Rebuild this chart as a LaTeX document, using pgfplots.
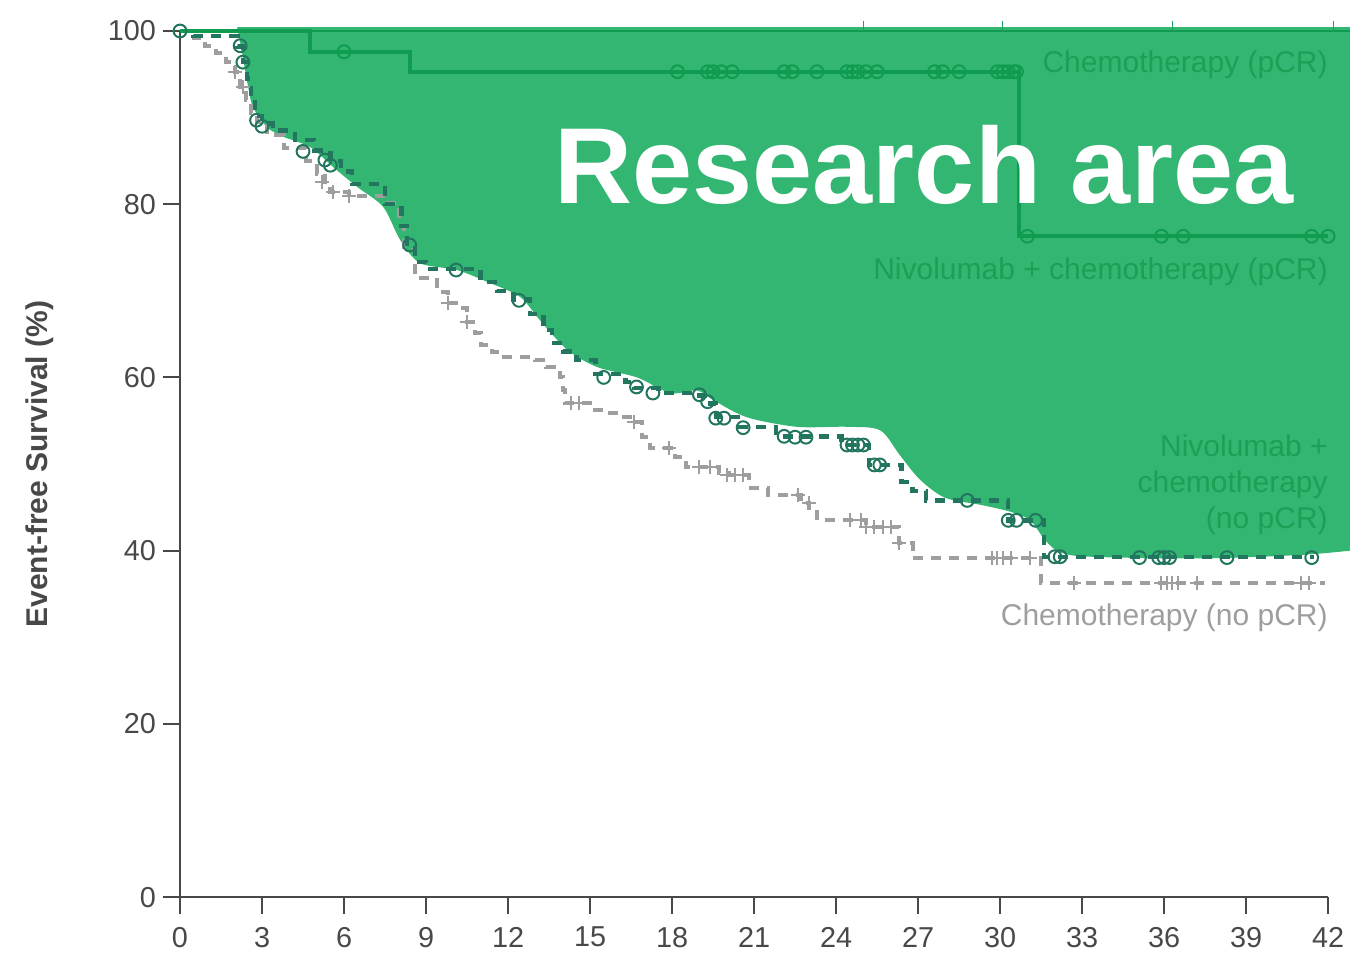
\documentclass[border=0pt]{standalone}
\usepackage{fontspec}
\setmainfont{Liberation Sans}
\usepackage{pgfplots}
\pgfplotsset{compat=1.18}
\usepgfplotslibrary{fillbetween}
\definecolor{fillgreen}{RGB}{50,182,113}
\definecolor{linegreen}{RGB}{16,156,80}
\definecolor{labgreen}{RGB}{28,160,86}
\definecolor{tealc}{RGB}{34,118,95}
\definecolor{grayc}{RGB}{158,158,158}
\definecolor{axgray}{RGB}{72,72,72}
\begin{document}
\begin{tikzpicture}
\begin{axis}[
  scale only axis, width=574pt, height=433pt,
  xmin=0, xmax=42, ymin=0, ymax=100,
  axis lines*=left, clip=false,
  xtick={0,3,...,42}, ytick={0,20,...,100},
  tick align=outside, major tick length=8.5pt,
  axis line style={axgray, line width=1pt},
  every tick/.style={axgray, line width=1pt},
  tick label style={font=\fontsize{14.4}{17}\selectfont, text=axgray},
  xticklabel style={yshift=-3pt},
  /pgf/number format/assume math mode=true,
  ylabel={Event-free Survival (\%)},
  ylabel style={font=\bfseries\fontsize{15}{18}\selectfont, text=axgray,
    at={(axis description cs:-0.122,0.5)}, anchor=center},
]
% Chemotherapy (no pCR)
\addplot[const plot, grayc, line width=2pt, dash pattern=on 5pt off 4pt] coordinates {
(0,100) (0.5,99.2) (0.9,98.3) (1.3,97.5) (1.7,96.4) (2.0,95.3) (2.2,93.5) (2.4,92.0)
(2.6,90.5) (2.8,89.5) (3.2,88.0) (3.8,86.5) (4.6,85.0) (5.0,83.5) (5.3,82.3) (5.5,81.4)
(6.2,80.9) (7.6,80.1) (8.0,77.5) (8.2,74.7) (8.6,71.5) (9.4,69.9) (9.8,68.6) (10.2,68.0)
(10.5,66.4) (10.8,65.1) (11.0,63.7) (11.4,62.9) (11.7,62.4) (13.0,62.0) (13.4,61.2)
(13.9,60.0) (14.0,58.5) (14.1,57.0) (15.0,56.2) (15.6,55.9) (16.1,55.4) (16.6,54.8)
(16.9,53.1) (17.2,51.8) (18.1,50.8) (18.5,49.7) (19.7,49.0) (20.1,48.7) (20.8,48.4)
(20.9,47.2) (21.5,46.4) (22.7,45.5) (23.0,44.5) (23.3,43.5) (25.1,42.7) (26.3,40.9)
(26.8,39.1) (31.5,36.3) (41.9,36.3)};
\addplot[only marks, mark=+, mark size=3.5pt, grayc, line width=1pt] coordinates {
(2.0,95.3) (2.3,93.5) (5.2,82.6) (5.6,81.4) (6.2,80.9) (9.8,68.6) (10.5,66.4)
(14.3,57.0) (14.6,57.0) (16.6,54.8) (17.9,51.8) (19.0,49.7) (19.4,49.7) (20.0,48.7)
(20.3,48.7) (20.6,48.7) (22.6,46.4) (23.0,45.5) (24.5,43.5) (24.9,43.5) (25.1,42.7)
(25.4,42.7) (25.7,42.7) (26.0,42.7) (26.3,40.9) (29.7,39.1) (29.9,39.1) (30.1,39.1)
(30.4,39.1) (31.1,39.1) (32.7,36.3) (35.9,36.3) (36.1,36.3) (36.3,36.3) (36.5,36.3)
(37.2,36.3) (41.0,36.3) (41.3,36.3)};
% Nivolumab + chemotherapy (no pCR)
\addplot[const plot, tealc, line width=2.2pt, dash pattern=on 5pt off 4pt] coordinates {
(0,100) (0.5,99.4) (2.1,98.2) (2.3,96.4) (2.45,94.5) (2.6,92.3) (2.75,90.2) (3.0,89.3)
(3.4,88.5) (4.2,87.4) (4.9,86.2) (5.5,85.0) (5.9,83.8) (6.3,82.3) (7.5,80.0) (8.1,77.5)
(8.3,75.4) (8.6,73.3) (9.0,72.5) (11.0,71.0) (11.6,70.0) (12.2,69.0) (12.8,67.3)
(13.3,65.5) (13.6,64.0) (14.0,63.0) (14.5,62.0) (15.2,60.4) (16.3,59.5) (16.6,58.8)
(17.5,58.2) (18.8,57.9) (19.3,57.0) (19.6,55.4) (20.5,54.3) (21.8,53.2) (24.2,52.2)
(25.2,49.9) (26.4,47.9) (26.8,46.9) (27.3,45.8) (30.3,43.5) (31.6,39.3) (41.5,39.3)};
\addplot[only marks, mark=o, mark size=3.2pt, tealc, line width=1pt] coordinates {
(0,100) (2.2,98.3) (2.3,96.4) (2.8,89.7) (3.0,89.0) (4.5,86.1) (5.3,85.1) (5.5,84.5)
(8.4,75.3) (10.1,72.4) (12.4,68.9) (15.5,60.0) (16.7,58.9) (17.3,58.2) (19.0,58.0)
(19.3,57.2) (19.6,55.3) (19.9,55.3) (20.6,54.2) (22.1,53.2) (22.5,53.1) (22.9,53.1)
(24.4,52.2) (24.6,52.2) (24.8,52.2) (25.0,52.2) (25.4,49.9) (25.6,49.9) (28.8,45.8)
(30.3,43.5) (30.6,43.5) (31.3,43.5) (32.0,39.3) (32.2,39.3) (35.1,39.2) (35.8,39.2)
(36.0,39.2) (36.2,39.2) (38.3,39.2) (41.4,39.2)};
% Research area fill
\addplot[name path=bnd, draw=none, smooth, tension=0.5] coordinates {
(2.09,100.45) (2.27,97.5) (2.49,93.6) (2.67,91.2) (3.18,88.9) (3.77,87.8) (4.76,86.6)
(5.60,84.3) (6.48,82.0) (7.43,79.7) (8.05,75.9) (8.78,73.2) (10.13,72.4) (11.34,70.9)
(12.44,69.3) (13.17,66.6) (14.16,63.2) (15.26,61.2) (16.72,60.0) (17.93,58.2)
(18.91,58.5) (19.50,57.4) (20.74,55.4) (22.57,54.3) (24.40,54.3) (25.61,53.9)
(26.34,51.0) (27.07,48.2) (27.99,46.1) (29.27,45.3) (30.37,44.5) (31.10,43.5)
(31.65,41.2) (32.20,39.8) (33.29,39.3) (37.32,39.1) (40.98,39.5) (42.8,40.0)};
\addplot[name path=topl, draw=none] coordinates {(2.09,100.45) (42.8,100.45)};
\addplot[fillgreen, draw=none] fill between[of=bnd and topl];
% Chemotherapy (pCR)
\addplot[linegreen, line width=1.4pt] coordinates {(0,100) (42.8,100)};
\addplot[only marks, mark=|, mark size=2.5pt, linegreen!70!fillgreen, line width=0.6pt] coordinates {
(25.0,100.6) (30.1,100.6) (36.3,100.6) (42.2,100.6)};
% Nivolumab + chemotherapy (pCR)
\addplot[const plot, linegreen, line width=2pt] coordinates {
(0,100) (4.76,97.6) (8.41,95.3) (30.7,76.3) (42.0,76.3)};
\addplot[only marks, mark=o, mark size=3.2pt, linegreen, line width=1pt] coordinates {
(6.0,97.6) (18.2,95.3) (19.3,95.3) (19.5,95.3) (19.8,95.3) (20.2,95.3) (22.1,95.3)
(22.4,95.3) (23.3,95.3) (24.4,95.3) (24.6,95.3) (24.8,95.3) (25.1,95.3) (25.5,95.3)
(27.6,95.3) (27.9,95.3) (28.5,95.3) (29.9,95.3) (30.1,95.3) (30.3,95.3) (30.5,95.3)
(30.6,95.3) (31.0,76.3) (35.9,76.3) (36.7,76.3) (41.4,76.3) (42.0,76.3)};
% labels
\node[anchor=east, text=labgreen, font=\fontsize{15}{18}\selectfont, inner sep=0pt] at (axis cs:42,96.1) {Chemotherapy (pCR)};
\node[anchor=east, text=labgreen, font=\fontsize{15}{18}\selectfont, inner sep=0pt] at (axis cs:42,72.2) {Nivolumab + chemotherapy (pCR)};
\node[anchor=east, align=right, text=labgreen, font=\fontsize{15}{18}\selectfont, inner sep=0pt] at (axis cs:42,47.6) {Nivolumab +\\chemotherapy\\(no pCR)};
\node[anchor=east, text=grayc, font=\fontsize{15}{18}\selectfont, inner sep=0pt] at (axis cs:42,32.2) {Chemotherapy (no pCR)};
\node[anchor=base, text=white, font=\bfseries\fontsize{54}{60}\selectfont, inner sep=0pt] at (axis cs:27.22,80.1) {Research area};
\coordinate (bbll) at (axis cs:-6.585,-7.62);
\coordinate (bbur) at (axis cs:43.35,103.58);
\end{axis}
\pgfresetboundingbox
\path (bbll) rectangle (bbur);
\end{tikzpicture}
\end{document}
